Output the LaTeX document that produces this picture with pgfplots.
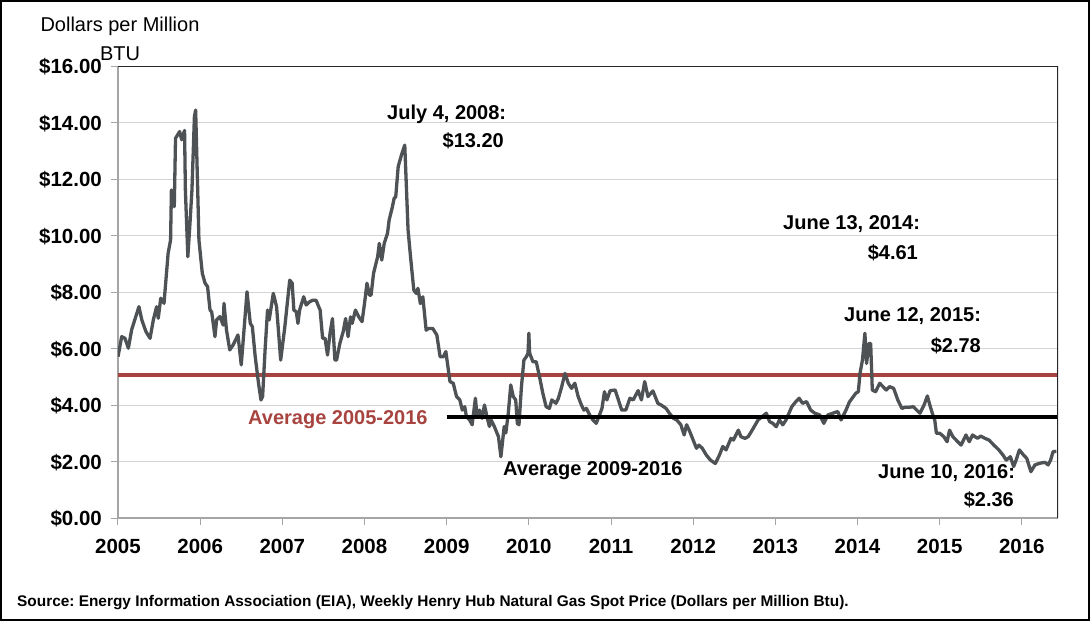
\documentclass[border=0pt]{standalone}
\usepackage{fontspec}
\setmainfont{Liberation Sans}
\usepackage{pgfplots}
\pgfplotsset{compat=1.18}
\frenchspacing
\definecolor{gasline}{RGB}{78,82,85}
\definecolor{avgred}{RGB}{168,68,64}
\definecolor{gridgray}{RGB}{212,212,212}
\definecolor{axisgray}{RGB}{165,165,165}
\newcommand\tf{\fontsize{20}{24}\selectfont\bfseries}
\begin{document}
\begin{tikzpicture}
\useasboundingbox (0pt,0pt) rectangle (1090pt,-621pt);
\begin{axis}[
  at={(118pt,-518pt)}, anchor=south west,
  scale only axis, width=940pt, height=452pt,
  xmin=2005, xmax=2016.44, ymin=0, ymax=16,
  axis lines=left,
  axis line style={-, draw=axisgray, line width=1.2pt},
  xtick={2005,2006,2007,2008,2009,2010,2011,2012,2013,2014,2015,2016},
  xticklabels={2005,2006,2007,2008,2009,2010,2011,2012,2013,2014,2015,2016},
  ytick={0,2,4,6,8,10,12,14,16},
  yticklabels={\$0.00,\$2.00,\$4.00,\$6.00,\$8.00,\$10.00,\$12.00,\$14.00,\$16.00},
  tick align=outside, major tick length=7pt,
  tick style={draw=axisgray, line width=1pt},
  ymajorgrids, grid style={draw=gridgray, line width=1pt},
  xticklabel style={font=\fontsize{20.5}{24}\selectfont\bfseries, inner sep=0pt, yshift=-14pt},
  yticklabel style={font=\fontsize{20.5}{24}\selectfont\bfseries, inner sep=0pt, xshift=-9pt, yshift=-1pt},
]
\addplot[avgred, line width=4pt] coordinates {(2005,5.06) (2016.44,5.06)};
\addplot[gasline, line width=3.3pt, line join=round] coordinates {
(2005.00,5.71) (2005.045,6.42) (2005.085,6.36) (2005.126,6.01) (2005.166,6.66)
(2005.21,7.07) (2005.255,7.48) (2005.29,7.01) (2005.34,6.60) (2005.39,6.36)
(2005.43,7.01) (2005.47,7.48) (2005.49,7.07) (2005.52,7.78) (2005.56,7.60)
(2005.61,9.37) (2005.64,9.84) (2005.65,11.61) (2005.685,11.02) (2005.70,13.44)
(2005.75,13.68) (2005.775,13.39) (2005.81,13.72) (2005.82,11.61) (2005.85,9.25)
(2005.876,10.43) (2005.90,11.61) (2005.93,14.21) (2005.945,14.44) (2005.97,11.61)
(2005.985,9.84) (2006.026,8.66) (2006.06,8.31) (2006.09,8.19) (2006.12,7.36)
(2006.14,7.30) (2006.18,6.42) (2006.20,7.01) (2006.24,7.13) (2006.28,6.83)
(2006.29,7.60) (2006.32,6.66) (2006.36,5.95) (2006.40,6.12) (2006.46,6.48)
(2006.50,5.42) (2006.54,6.89) (2006.57,8.01) (2006.61,6.89) (2006.635,6.77)
(2006.67,5.71) (2006.71,4.77) (2006.74,4.18) (2006.76,4.30) (2006.79,5.95)
(2006.82,7.36) (2006.84,7.01) (2006.89,7.95) (2006.93,7.48) (2006.98,5.59)
(2007.03,6.76) (2007.09,8.42) (2007.12,8.31) (2007.14,7.36) (2007.17,7.30)
(2007.19,6.89) (2007.21,7.36) (2007.26,7.83) (2007.29,7.54) (2007.33,7.65)
(2007.37,7.71) (2007.41,7.71) (2007.46,7.36) (2007.49,6.36) (2007.52,6.36)
(2007.55,5.77) (2007.58,6.53) (2007.61,7.06) (2007.64,5.59) (2007.66,5.59)
(2007.70,6.18) (2007.74,6.59) (2007.77,7.06) (2007.80,6.42) (2007.83,7.12)
(2007.85,6.89) (2007.89,7.36) (2007.93,7.12) (2007.97,6.95) (2008.00,7.59)
(2008.03,8.31) (2008.06,7.89) (2008.08,7.89) (2008.11,8.66) (2008.16,9.25)
(2008.18,9.72) (2008.21,9.13) (2008.24,9.72) (2008.28,10.08) (2008.30,10.55)
(2008.34,11.02) (2008.36,11.31) (2008.38,11.37) (2008.41,12.44) (2008.45,12.85)
(2008.49,13.20) (2008.53,10.20) (2008.56,9.25) (2008.60,8.07) (2008.63,7.95)
(2008.65,8.13) (2008.68,7.59) (2008.71,7.83) (2008.75,6.65) (2008.78,6.71)
(2008.83,6.71) (2008.88,6.48) (2008.92,5.71) (2008.96,5.71) (2008.99,5.89)
(2009.04,4.83) (2009.08,4.77) (2009.12,4.30) (2009.16,4.18) (2009.19,3.82)
(2009.22,3.94) (2009.24,3.59) (2009.28,3.47) (2009.31,3.30) (2009.35,4.24)
(2009.37,3.59) (2009.40,3.82) (2009.43,3.53) (2009.46,4.00) (2009.49,3.59)
(2009.52,3.24) (2009.54,3.47) (2009.58,3.24) (2009.63,2.88) (2009.66,2.17)
(2009.70,3.24) (2009.72,3.01) (2009.75,3.71) (2009.78,4.71) (2009.81,4.30)
(2009.84,4.18) (2009.86,3.35) (2009.88,3.30) (2009.91,4.65) (2009.94,5.59)
(2009.97,5.71) (2009.99,5.83) (2010.00,6.54) (2010.01,5.83) (2010.05,5.53)
(2010.09,5.53) (2010.13,5.00) (2010.17,4.42) (2010.21,3.94) (2010.25,3.88)
(2010.28,4.18) (2010.33,4.06) (2010.36,4.24) (2010.40,4.65) (2010.44,5.12)
(2010.48,4.77) (2010.52,4.59) (2010.56,4.77) (2010.60,4.30) (2010.64,4.00)
(2010.67,3.82) (2010.70,3.88) (2010.74,3.65) (2010.78,3.47) (2010.82,3.35)
(2010.86,3.65) (2010.89,3.88) (2010.92,4.47) (2010.95,4.18) (2010.99,4.51)
(2011.05,4.53) (2011.09,4.18) (2011.13,3.82) (2011.18,3.82) (2011.23,4.24)
(2011.27,4.18) (2011.33,4.51) (2011.37,4.18) (2011.41,4.83) (2011.45,4.30)
(2011.51,4.50) (2011.57,4.06) (2011.61,4.00) (2011.67,3.88) (2011.71,3.71)
(2011.76,3.53) (2011.80,3.47) (2011.85,3.30) (2011.89,2.94) (2011.92,3.30)
(2011.96,3.05) (2012.00,2.76) (2012.04,2.47) (2012.07,2.58) (2012.11,2.47)
(2012.16,2.23) (2012.21,2.05) (2012.27,1.93) (2012.32,2.23) (2012.36,2.53)
(2012.40,2.41) (2012.46,2.82) (2012.49,2.76) (2012.55,3.11) (2012.58,2.88)
(2012.63,2.82) (2012.67,2.88) (2012.73,3.17) (2012.79,3.47) (2012.84,3.59)
(2012.89,3.71) (2012.93,3.41) (2012.97,3.35) (2013.01,3.23) (2013.05,3.47)
(2013.09,3.30) (2013.13,3.47) (2013.20,3.94) (2013.25,4.12) (2013.29,4.24)
(2013.33,4.06) (2013.38,4.12) (2013.43,3.82) (2013.48,3.71) (2013.54,3.65)
(2013.59,3.35) (2013.64,3.65) (2013.70,3.71) (2013.76,3.77) (2013.80,3.47)
(2013.86,3.82) (2013.90,4.10) (2013.95,4.30) (2013.98,4.42) (2014.01,4.47)
(2014.03,5.12) (2014.06,5.59) (2014.09,6.54) (2014.11,5.47) (2014.14,6.18)
(2014.16,6.18) (2014.18,4.53) (2014.22,4.47) (2014.27,4.77) (2014.31,4.65)
(2014.35,4.53) (2014.39,4.65) (2014.44,4.59) (2014.49,4.18) (2014.54,3.88)
(2014.58,3.92) (2014.63,3.92) (2014.68,3.94) (2014.72,3.82) (2014.76,3.71)
(2014.81,4.00) (2014.85,4.32) (2014.88,4.00) (2014.91,3.71) (2014.94,3.47)
(2014.96,3.00) (2015.00,3.00) (2015.05,2.88) (2015.09,2.70) (2015.12,3.11)
(2015.16,2.88) (2015.20,2.76) (2015.26,2.58) (2015.32,2.94) (2015.36,2.70)
(2015.40,2.94) (2015.46,2.82) (2015.50,2.90) (2015.55,2.82) (2015.60,2.76)
(2015.66,2.58) (2015.72,2.41) (2015.77,2.23) (2015.81,2.05) (2015.86,2.17)
(2015.90,1.82) (2015.93,2.05) (2015.97,2.41) (2016.02,2.23) (2016.06,2.11)
(2016.11,1.64) (2016.16,1.88) (2016.22,1.94) (2016.28,1.97) (2016.32,1.88)
(2016.35,2.05) (2016.38,2.35) (2016.42,2.36)
};
\addplot[black, line width=4pt] coordinates {(2009,3.59) (2016.44,3.59)};
\draw[black!85, line width=1.3pt] (rel axis cs:0,1) -- (rel axis cs:1,1) -- (rel axis cs:1,0);
\end{axis}
% y axis title
\node[anchor=base, font=\fontsize{20}{24}\selectfont] at (120pt,-31pt) {Dollars per Million};
\node[anchor=base, font=\fontsize{20}{24}\selectfont] at (120pt,-60pt) {BTU};
% annotations
\node[anchor=base west, inner sep=0pt, font=\tf] at (387pt,-119pt) {July 4, 2008:};
\node[anchor=base east, inner sep=0pt, font=\tf] at (504pt,-147pt) {\$13.20};
\node[anchor=base west, inner sep=0pt, font=\tf] at (783pt,-229.5pt) {June 13, 2014:};
\node[anchor=base east, inner sep=0pt, font=\tf] at (918pt,-259pt) {\$4.61};
\node[anchor=base west, inner sep=0pt, font=\tf] at (844pt,-321.5pt) {June 12, 2015:};
\node[anchor=base east, inner sep=0pt, font=\tf] at (981pt,-352.5pt) {\$2.78};
\node[anchor=base west, inner sep=0pt, font=\tf] at (878pt,-478.5pt) {June 10, 2016:};
\node[anchor=base east, inner sep=0pt, font=\tf] at (1014pt,-506pt) {\$2.36};
\node[anchor=base west, inner sep=0pt, font=\tf, text=avgred] at (248pt,-424pt) {Average 2005-2016};
\node[anchor=base west, inner sep=0pt, font=\tf] at (503pt,-475pt) {Average 2009-2016};
% source
\node[anchor=base west, inner sep=0pt, font=\fontsize{15.4}{18}\selectfont\bfseries] at (17pt,-606pt) {Source: Energy Information Association (EIA), Weekly Henry Hub Natural Gas Spot Price (Dollars per Million Btu).};
% outer frame
\draw[black, line width=2pt] (1pt,-1pt) rectangle (1089pt,-620pt);
\end{tikzpicture}
\end{document}
